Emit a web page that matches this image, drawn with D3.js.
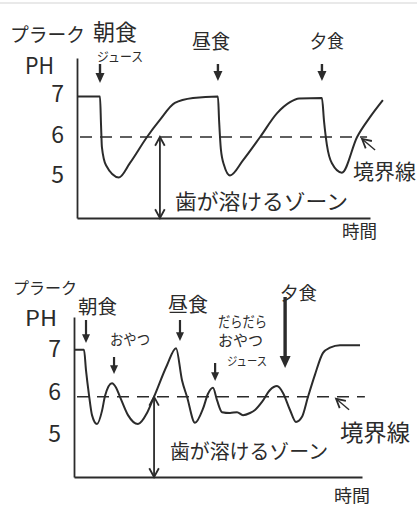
<!DOCTYPE html>
<html>
<head>
<meta charset="utf-8">
<script src="https://cdn.jsdelivr.net/npm/d3@7"></script>
<style>
  body { margin: 0; background: #fff; }
  svg text { font-family: "Noto Sans CJK JP", "Noto Sans", sans-serif; fill: #2b2b2b; }
</style>
</head>
<body>
<svg id="chart" width="417" height="506"></svg>
<script>
// pH ticks shown on both panels
var phTicks = [5, 6, 7];

// top panel: three meals only (time in arbitrary units 0-100)
var time1 = [0, 7.85, 8.2, 8.5, 9.9, 14.3, 18.1, 23.9, 28.3, 33.4, 39.6, 48.1, 48.5, 49.1, 50.2, 52.2,
  56.7, 62.5, 68.3, 72.7, 75.8, 83.6, 84.3, 85.3, 87.0, 90.4, 95.6, 100, 104.4];
var ph1 = [7.0, 7.0, 6.3, 5.75, 5.3, 5.0, 5.36, 6.0, 6.42, 6.84, 6.96, 7.0, 6.4, 5.7, 5.3, 5.05,
  5.43, 6.0, 6.59, 6.86, 6.95, 6.96, 6.4, 5.8, 5.35, 5.12, 6.0, 6.49, 6.91];
var meals1 = ["朝食", "昼食", "夕食"];
var mealTimes1 = [7.85, 48.1, 83.6];

// bottom panel: meals plus snacks / juice
var time2 = [0, 3.47, 4.17, 5.21, 6.25, 7.99, 9.72, 10.76, 13.19, 14.58, 15.97, 18.75, 22.22, 25.35,
  27.78, 32.29, 35.42, 37.5, 39.24, 42.01, 44.79, 46.53, 48.26, 49.65, 51.39, 54.17, 56.6, 58.68,
  61.11, 62.85, 65.28, 68.06, 70.49, 72.57, 75.0, 77.08, 79.17, 81.25, 83.68, 86.46, 88.9, 92.36, 99.31];
var ph2 = [6.98, 6.98, 6.5, 5.92, 5.45, 5.24, 5.55, 5.9, 6.2, 6.1, 5.88, 5.45, 5.24, 5.5,
  5.88, 6.62, 7.02, 6.27, 5.88, 5.27, 5.6, 5.95, 6.09, 5.8, 5.52, 5.5, 5.52, 5.45,
  5.5, 5.57, 5.76, 6.04, 6.13, 5.97, 5.57, 5.29, 5.41, 5.88, 6.4, 6.91, 7.03, 7.09, 7.09];
var meals2 = ["朝食", "おやつ", "昼食", "だらだら", "夕食"];
var mealTimes2 = [4.17, 13.9, 36.8, 49, 73.3];

// boundary line (境界線)
var boundary1 = 6.0;
var boundary2 = 5.88;

var ink = "#2b2b2b";
var svg = d3.select("#chart");

// faint scan border at top
svg.append("line").attr("x1", 0).attr("x2", 417).attr("y1", 3).attr("y2", 3)
  .attr("stroke", "#e2e2e2").attr("stroke-width", 1.5);

function filledArrow(g, x, y1, y2, w, sw) {
  var head = w * 1.1;
  g.append("line").attr("x1", x).attr("x2", x).attr("y1", y1).attr("y2", y2 - head + 1)
    .attr("stroke", ink).attr("stroke-width", sw);
  g.append("path")
    .attr("d", "M" + (x - w / 2) + "," + (y2 - head) + "L" + (x + w / 2) + "," + (y2 - head) + "L" + x + "," + y2 + "Z")
    .attr("fill", ink);
}

function openHead(g, x, y, ang) {
  // ang = direction the arrow points, radians
  var L = 10, s = 0.5;
  var a1 = ang + Math.PI - s, a2 = ang + Math.PI + s;
  g.append("path")
    .attr("d", "M" + (x + L * Math.cos(a1)) + "," + (y + L * Math.sin(a1)) + "L" + x + "," + y +
      "L" + (x + L * Math.cos(a2)) + "," + (y + L * Math.sin(a2)))
    .attr("fill", "none").attr("stroke", ink).attr("stroke-width", 1.8);
}

function label(g, txt, x, y, size, len) {
  var t = g.append("text").attr("x", x).attr("y", y).attr("dominant-baseline", "central")
    .attr("font-size", size).text(txt);
  if (len) t.attr("textLength", len).attr("lengthAdjust", "spacingAndGlyphs");
  return t;
}

function panel(cfg) {
  var x = d3.scaleLinear().domain([0, 100]).range(cfg.xRange);
  var y = d3.scaleLinear().domain(cfg.yDomain).range(cfg.yRange);
  var g = svg.append("g");

  var ya = g.append("g").attr("transform", "translate(" + cfg.xRange[0] + ",0)")
    .call(d3.axisLeft(y).tickValues(phTicks).tickSize(0).tickSizeOuter(0).tickPadding(13).tickFormat(d3.format("d")));
  ya.select(".domain").attr("stroke", ink).attr("stroke-width", 1.8);
  ya.selectAll(".tick text").attr("font-size", 23)
    .attr("transform", "translate(0," + cfg.tickShift + ")");

  var xa = g.append("g").attr("transform", "translate(0," + y(cfg.yDomain[0]) + ")")
    .call(d3.axisBottom(x).tickValues([]).tickSizeOuter(0));
  xa.select(".domain").attr("stroke", ink).attr("stroke-width", 1.8);

  // boundary
  g.append("line")
    .attr("x1", x(0) + 3).attr("x2", x(cfg.dashEnd))
    .attr("y1", y(cfg.boundary)).attr("y2", y(cfg.boundary))
    .attr("stroke", ink).attr("stroke-width", 1.6).attr("stroke-dasharray", "12,8");

  // pH curve
  var line = d3.line().x(function(d) { return x(d[0]); }).y(function(d) { return y(d[1]); })
    .curve(d3.curveMonotoneX);
  g.append("path").datum(d3.zip(cfg.time, cfg.ph)).attr("d", line)
    .attr("fill", "none").attr("stroke", ink).attr("stroke-width", 2).attr("stroke-linejoin", "round");

  // "tooth dissolves" zone double arrow
  var zx = x(cfg.zoneT), zy1 = y(cfg.boundary), zy2 = y(cfg.yDomain[0]);
  g.append("line").attr("x1", zx).attr("x2", zx).attr("y1", zy1).attr("y2", zy2)
    .attr("stroke", ink).attr("stroke-width", 1.8);
  openHead(g, zx, zy1, -Math.PI / 2);
  openHead(g, zx, zy2, Math.PI / 2);

  // pointer to boundary
  var px = x(cfg.pointerT), py = y(cfg.boundary) + 2;
  g.append("line").attr("x1", px + 13).attr("y1", py + 11).attr("x2", px).attr("y2", py)
    .attr("stroke", ink).attr("stroke-width", 1.4);
  openHead(g, px, py, Math.atan2(-11, -13));

  // meal arrows
  cfg.mealTimes.forEach(function(t, i) {
    var a = cfg.arrows[i];
    filledArrow(g, x(t), a[0], a[1], a[2], a[3]);
  });

  cfg.labels.forEach(function(l) { label(g, l[0], l[1], l[2], l[3], l[4]); });
  return g;
}

panel({
  xRange: [77, 370], yDomain: [4, 7.95], yRange: [218, 58], tickShift: -2,
  time: time1, ph: ph1, boundary: boundary1, dashEnd: 99, zoneT: 28.3, pointerT: 97.3,
  mealTimes: mealTimes1,
  arrows: [[64, 83, 9, 2.4], [64, 81, 9, 2.4], [64, 81, 9, 2.4]],
  labels: [
    ["プラーク", 10, 33, 19, 75],
    [meals1[0], 93, 30, 22, 44],
    ["ジュース", 97, 55, 13, 46],
    ["PH", 25, 64, 23, 29],
    [meals1[1], 192, 40, 20, 38],
    [meals1[2], 310, 40, 18, 34],
    ["境界線", 353, 170, 21],
    ["歯が溶けるゾーン", 175, 200, 21, 173],
    ["時間", 342, 230, 18, 35]
  ]
});

panel({
  xRange: [74, 362], yDomain: [4, 7.75], yRange: [477, 317], tickShift: 0,
  time: time2, ph: ph2, boundary: boundary2, dashEnd: 101, zoneT: 27.8, pointerT: 91,
  mealTimes: mealTimes2,
  arrows: [[320, 343, 8, 2.2], [357, 374, 8, 2.2], [320, 341, 8, 2.2], [363, 381, 8, 2.2], [297, 368, 11, 3.4]],
  labels: [
    ["プラーク", 13, 287, 16, 64],
    ["PH", 25, 317, 21, 32],
    [meals2[0], 78, 305, 19, 39],
    [meals2[1], 110, 338, 15, 40],
    [meals2[2], 168, 303, 20, 40],
    [meals2[3], 218, 320, 15, 49],
    ["おやつ", 218, 339, 15, 45],
    ["ジュース", 227, 360, 12, 40],
    [meals2[4], 280, 292, 18, 37],
    ["境界線", 340, 431, 23, 70],
    ["歯が溶けるゾーン", 170, 450, 20, 158],
    ["時間", 334, 494, 17, 36]
  ]
});
</script>
</body>
</html>
